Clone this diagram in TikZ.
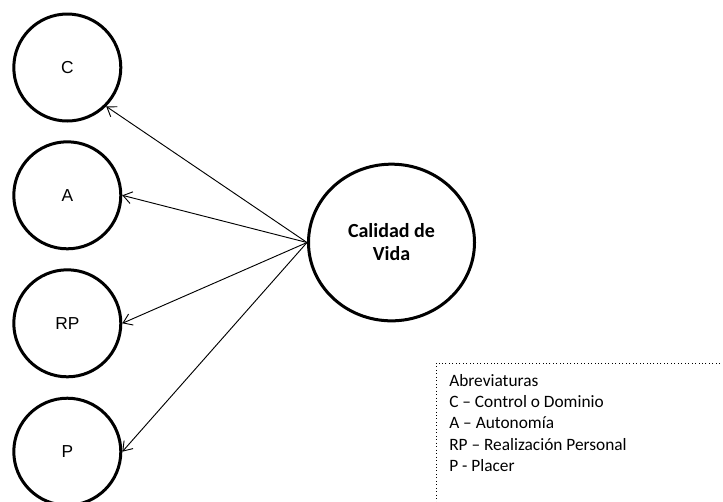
\documentclass[tikz,border=0pt]{standalone}
\usepackage{fontspec}
\setmainfont{Carlito}
\newfontfamily\arialfont{Liberation Sans}
\usetikzlibrary{shapes.geometric,arrows.meta}
\begin{document}
\begin{tikzpicture}[x=0.75pt,y=-0.75pt,
  smallcirc/.style={circle,draw,line width=2.25pt,minimum size=80.25pt,inner sep=0pt,font=\arialfont\fontsize{13}{15}\selectfont},
  bigell/.style={ellipse,draw,line width=2.25pt,minimum width=124.5pt,minimum height=117.5pt,inner sep=0pt,align=center,font=\bfseries\fontsize{15}{17.3}\selectfont},
  conn/.style={line width=0.7pt,-{Straight Barb[length=6.5pt,width=9pt,line width=0.7pt]}},
  legendbox/.style={draw,dotted,line width=0.6pt}]
\useasboundingbox (0,0) rectangle (723,501);
\clip (0,0) rectangle (723,501);
\node[smallcirc] (C) at (67.3,67.5) {C};
\node[smallcirc] (A) at (67.3,195.3) {A};
\node[smallcirc] (RP) at (67.3,323.3) {RP};
\node[smallcirc] (P) at (67.3,451.7) {P};
\node[bigell] (cal) at (391.5,242.5) {Calidad de\\Vida};
\draw[conn] (cal.west) -- (C.-45);
\draw[conn] (cal.west) -- (A.east);
\draw[conn] (cal.west) -- (RP.east);
\draw[conn] (cal.west) -- (P.east);
\coordinate (lbnw) at (436,363);
\coordinate (lbse) at (740,520);
\draw[legendbox] (lbnw) rectangle (lbse);
\node[anchor=north west,inner sep=0pt,align=left,font=\fontsize{13}{16}\selectfont] (leg) at (449,374)
 {Abreviaturas\\C – Control o Dominio\\A – Autonomía\\RP – Realización Personal\\P - Placer};
\end{tikzpicture}
\end{document}
